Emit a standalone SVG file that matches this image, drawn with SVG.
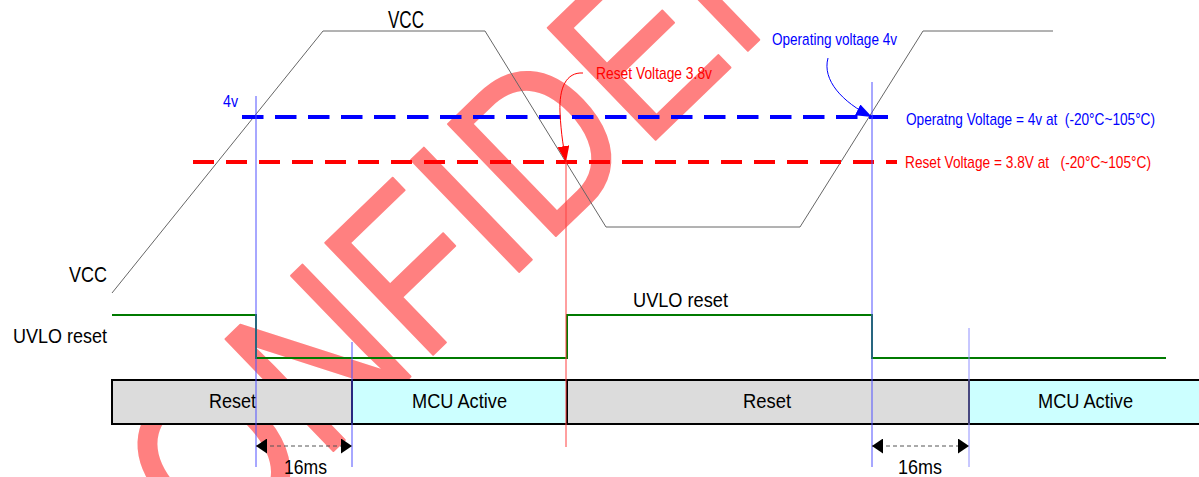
<svg xmlns="http://www.w3.org/2000/svg" width="1199" height="477" viewBox="0 0 1199 477">
<style>
.t{font-family:"Liberation Sans",Arial,sans-serif;font-size:21px;fill:#000}
.s{font-family:"Liberation Sans",Arial,sans-serif;font-size:17px}
.wm{font-family:"Liberation Sans",Arial,sans-serif;font-size:226px;fill:#ff8080;stroke:#ff8080;stroke-width:2;stroke-linejoin:round}
.vcc{fill:none;stroke:#666;stroke-width:1}
.uvlo{fill:none;stroke:#007a00;stroke-width:2}
.vb{stroke:#5050ff;stroke-width:1}
.box{stroke:#000;stroke-width:2}
.dim{stroke:#555;stroke-width:1;stroke-dasharray:4 3}
</style>
<defs>
<marker id="ah" markerUnits="userSpaceOnUse" markerWidth="11" markerHeight="15" viewBox="0 0 11 15" refX="11" refY="7.5" orient="auto-start-reverse">
<path d="M0,0 L11,7.5 L0,15 z" fill="#000"/>
</marker>
<marker id="ahr" markerUnits="userSpaceOnUse" markerWidth="16" markerHeight="12" viewBox="0 0 16 12" refX="16" refY="6" orient="auto">
<path d="M0,0 L16,6 L0,12 z" fill="#ff0000"/>
</marker>
<marker id="ahb" markerUnits="userSpaceOnUse" markerWidth="16" markerHeight="12" viewBox="0 0 16 12" refX="16" refY="6" orient="auto">
<path d="M0,0 L16,6 L0,12 z" fill="#0000ff"/>
</marker>
</defs>
<rect width="1199" height="477" fill="#fff"/>
<g id="watermark">
<text class="wm" transform="translate(114.7,662.2) rotate(-44) scale(0.85,1)" x="0" y="0">CONFIDENTIAL</text>
</g>
<g id="box-reset-1">
<rect class="box" x="112" y="380" width="240" height="44" fill="#dcdcdc"/>
<text class="t" x="209" y="408" textLength="47" lengthAdjust="spacingAndGlyphs">Reset</text>
</g>
<g id="box-active-1">
<rect class="box" x="352" y="380" width="215" height="44" fill="#ccffff"/>
<text class="t" x="412" y="408" textLength="95" lengthAdjust="spacingAndGlyphs">MCU Active</text>
</g>
<g id="box-reset-2">
<rect class="box" x="567" y="380" width="402" height="44" fill="#dcdcdc"/>
<text class="t" x="743" y="408" textLength="48" lengthAdjust="spacingAndGlyphs">Reset</text>
</g>
<g id="box-active-2">
<rect class="box" x="969" y="380" width="240" height="44" fill="#ccffff"/>
<text class="t" x="1038" y="408" textLength="95" lengthAdjust="spacingAndGlyphs">MCU Active</text>
</g>
<g id="vcc-wave">
<path class="vcc" d="M112,293 L323,31 L485,31 L606,227 L800,227 L923,31 L1053,31"/>
<text class="t" x="388" y="28" style="font-size:23px" textLength="36" lengthAdjust="spacingAndGlyphs">VCC</text>
<text class="t" x="69" y="282" style="font-size:22px" textLength="38" lengthAdjust="spacingAndGlyphs">VCC</text>
</g>
<g id="uvlo-wave">
<path class="uvlo" d="M112,315 L256,315 L256,358 L567,358 L567,315 L872,315 L872,358 L1166,358"/>
<text class="t" x="13" y="343" textLength="94" lengthAdjust="spacingAndGlyphs">UVLO reset</text>
<text class="t" x="633" y="307" textLength="95" lengthAdjust="spacingAndGlyphs">UVLO reset</text>
</g>
<g id="operating-threshold">
<line x1="242" y1="117" x2="888" y2="117" stroke="#0000ff" stroke-width="4" stroke-dasharray="21.5 11.5"/>
<text class="s" x="223" y="107" fill="#0000ff" style="font-size:16px" textLength="15" lengthAdjust="spacingAndGlyphs">4v</text>
<text class="s" x="906" y="125" fill="#0000ff" textLength="249" lengthAdjust="spacingAndGlyphs" xml:space="preserve">Operatng Voltage = 4v at  (-20°C~105°C)</text>
</g>
<g id="reset-threshold">
<line x1="193" y1="162" x2="897" y2="162" stroke="#ff0000" stroke-width="4" stroke-dasharray="21 12"/>
<text class="s" x="905" y="168" fill="#ff0000" textLength="246" lengthAdjust="spacingAndGlyphs" xml:space="preserve">Reset Voltage = 3.8V at   (-20°C~105°C)</text>
</g>
<g id="connectors">
<line class="vb" x1="256" y1="96" x2="256" y2="467"/>
<line class="vb" x1="352" y1="342" x2="352" y2="467"/>
<line x1="566" y1="160" x2="566" y2="447" stroke="#ff4040" stroke-width="1"/>
<line class="vb" x1="872" y1="82" x2="872" y2="467"/>
<line x1="969" y1="328" x2="969" y2="467" stroke="#9090ff" stroke-width="1"/>
<path d="M583,73 C566,72 559,88 560,112 C561,135 564,150 566,162" fill="none" stroke="#ff0000" stroke-width="1" marker-end="url(#ahr)"/>
<text class="s" x="596" y="79" fill="#ff0000" textLength="116" lengthAdjust="spacingAndGlyphs">Reset Voltage 3.8v</text>
<path d="M828,58 C822,80 842,102 872,117" fill="none" stroke="#0000ff" stroke-width="1" marker-end="url(#ahb)"/>
<text class="s" x="772" y="45" fill="#0000ff" textLength="125" lengthAdjust="spacingAndGlyphs">Operating voltage 4v</text>
<path class="dim" d="M256,446 H352" marker-start="url(#ah)" marker-end="url(#ah)"/>
<text class="t" x="284" y="474" textLength="43" lengthAdjust="spacingAndGlyphs">16ms</text>
<path class="dim" d="M872,446 H969" marker-start="url(#ah)" marker-end="url(#ah)"/>
<text class="t" x="898" y="474" textLength="44" lengthAdjust="spacingAndGlyphs">16ms</text>
</g>
</svg>
